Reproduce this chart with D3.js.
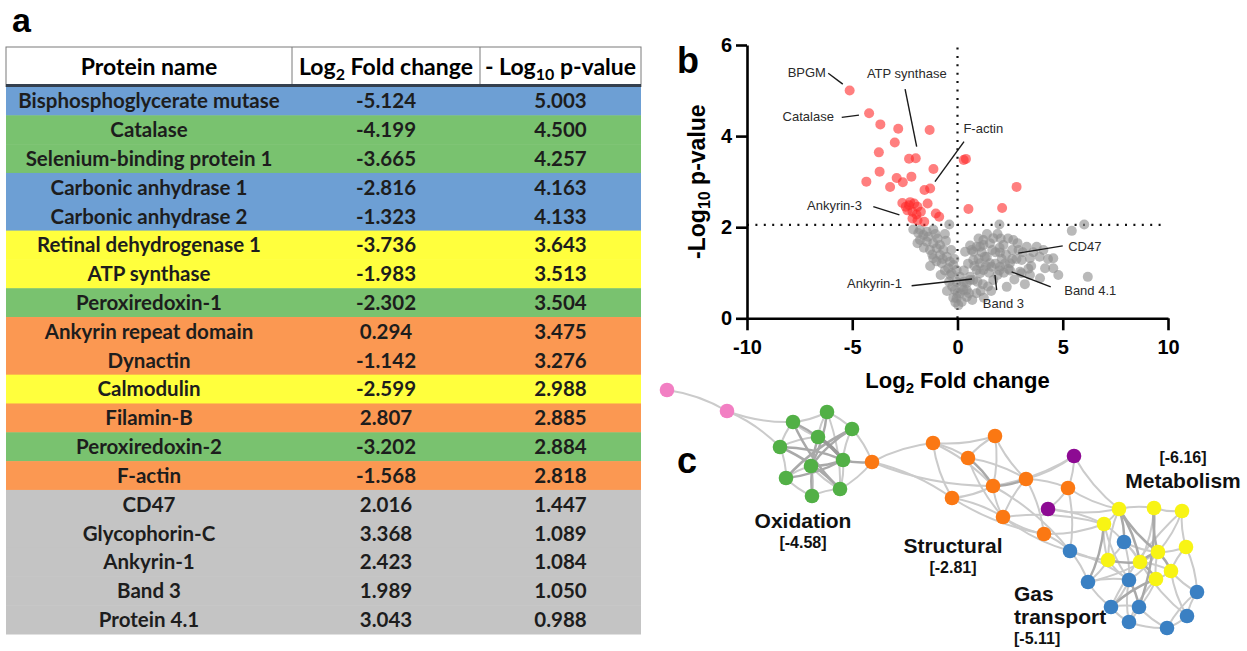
<!DOCTYPE html>
<html>
<head>
<meta charset="utf-8">
<script src="https://cdn.jsdelivr.net/npm/d3@7"></script>
<style>
  body { margin: 0; background: #fff; }
  svg { display: block; font-family: Arial, "Liberation Sans", sans-serif; }
</style>
</head>
<body>
<svg id="fig" width="1247" height="651"></svg>
<script>
// ---------- panel a : table ----------
var proteinNames = ["Bisphosphoglycerate mutase", "Catalase", "Selenium-binding protein 1",
  "Carbonic anhydrase 1", "Carbonic anhydrase 2", "Retinal dehydrogenase 1", "ATP synthase",
  "Peroxiredoxin-1", "Ankyrin repeat domain", "Dynactin", "Calmodulin", "Filamin-B",
  "Peroxiredoxin-2", "F-actin", "CD47", "Glycophorin-C", "Ankyrin-1", "Band 3", "Protein 4.1"];
var log2FC = ["-5.124", "-4.199", "-3.665", "-2.816", "-1.323", "-3.736", "-1.983", "-2.302", "0.294",
  "-1.142", "-2.599", "2.807", "-3.202", "-1.568", "2.016", "3.368", "2.423", "1.989", "3.043"];
var negLog10P = ["5.003", "4.500", "4.257", "4.163", "4.133", "3.643", "3.513", "3.504", "3.475",
  "3.276", "2.988", "2.885", "2.884", "2.818", "1.447", "1.089", "1.084", "1.050", "0.988"];
var rowGroup = ["gas", "ox", "ox", "gas", "gas", "met", "met", "ox", "str", "str", "met", "str",
  "ox", "str", "none", "none", "none", "none", "none"];
var rowFill = { gas: "#6d9fd4", ox: "#79c26f", met: "#ffff3d", str: "#fb9852", none: "#c4c4c4" };

// ---------- panel b : volcano ----------
var redPoints = [[-5.124, 5.003], [-4.199, 4.5], [-3.665, 4.257], [-2.816, 4.163], [-1.323, 4.133],
  [-2.98, 3.86], [-3.736, 3.643], [-2.302, 3.504], [-1.983, 3.513], [0.294, 3.475], [0.40, 3.50],
  [-1.142, 3.276], [-3.70, 3.22], [-4.33, 3.0], [-2.89, 3.08], [-2.19, 3.11], [-2.599, 2.988],
  [-3.202, 2.884], [-1.568, 2.818], [-1.30, 2.85], [2.807, 2.885], [0.52, 2.40], [2.12, 2.42],
  [-2.62, 2.53], [-2.30, 2.48], [-2.06, 2.52], [-1.90, 2.45], [-2.46, 2.45], [-1.74, 2.34],
  [-2.14, 2.34], [-1.42, 2.52], [-1.03, 2.30], [-0.87, 2.23], [-1.90, 2.15], [-1.58, 2.12],
  [-2.14, 2.19], [-2.38, 2.37], [-2.25, 2.55], [-1.95, 2.28]];
var grayPoints = [[-0.39, 2.06], [1.99, 2.06], [6.02, 2.06], [5.43, 1.92], [6.19, 0.91],
  [-1.78, 1.94], [-1.46, 1.90], [-2.1, 1.95], [-1.15, 1.95], [-0.95, 1.75], [-0.6, 1.85],
  [-1.86, 1.87], [-1.62, 1.83], [-1.39, 1.79], [-1.78, 1.72], [-1.46, 1.68], [-1.15, 1.65],
  [-0.83, 1.61], [-0.99, 1.54], [-1.31, 1.50], [-0.67, 1.50], [-0.83, 1.39], [-0.51, 1.35],
  [-1.15, 1.32], [-0.36, 1.24], [-0.75, 1.21], [-0.20, 1.17], [-0.44, 1.10], [-0.04, 1.06],
  [-0.28, 0.99], [0.12, 0.91], [-0.04, 0.80], [0.20, 0.69], [-0.12, 0.62], [0.12, 0.55],
  [-0.04, 0.44], [0.04, 0.29], [-1.9, 1.65], [-1.6, 1.55], [-1.2, 1.4], [-1.0, 1.25],
  [-0.6, 1.05], [-0.8, 0.95], [-0.4, 0.8], [-0.5, 0.6], [-0.2, 0.45], [-0.1, 0.35],
  [-1.3, 1.15], [-0.3, 1.5], [-0.15, 1.3], [-0.55, 1.7], [-1.05, 1.85], [-0.7, 1.3],
  [-0.35, 0.95], [-0.25, 0.7], [0.0, 0.55],
  [0.36, 1.46], [0.67, 1.50], [0.91, 1.57], [1.23, 1.61], [1.54, 1.65], [0.75, 1.28],
  [1.07, 1.21], [1.39, 1.35], [0.91, 1.06], [0.59, 0.91], [0.44, 0.77], [0.75, 0.84],
  [1.23, 1.06], [1.62, 1.13], [0.28, 0.62], [0.44, 0.47], [0.20, 0.36],
  [1.23, 1.72], [1.70, 1.76], [2.65, 1.72], [2.18, 1.61], [1.07, 1.57], [0.75, 1.46],
  [3.29, 1.57], [3.76, 1.57], [4.08, 1.50], [3.05, 1.28], [3.44, 1.32], [4.55, 1.32],
  [4.16, 1.10], [4.55, 1.10], [4.79, 0.95], [3.92, 0.88], [3.44, 0.95], [2.97, 1.02],
  [2.34, 0.69], [1.70, 0.84], [1.07, 0.99], [0.59, 0.84], [0.44, 0.62], [2.02, 1.13],
  [1.54, 1.21], [2.49, 1.21], [1.8, 1.45], [2.3, 1.4], [1.3, 1.35], [2.6, 1.5], [2.0, 1.55],
  [1.5, 1.0], [1.9, 0.95], [2.2, 1.0], [1.2, 0.75], [1.6, 0.6], [0.9, 0.55], [0.7, 0.4],
  [2.8, 1.3], [3.1, 1.45], [2.7, 0.85], [1.0, 1.3], [1.4, 1.85], [1.9, 1.85], [2.4, 1.75],
  [2.85, 1.65], [3.5, 1.15], [3.9, 1.35], [0.5, 1.2], [0.3, 1.05], [0.8, 1.15], [1.25, 0.45],
  [2.5, 1.05], [3.2, 0.75], [2.016, 1.447], [3.368, 1.089], [2.423, 1.084], [1.989, 1.050],
  [3.043, 0.988], [1.15, 1.45], [1.65, 1.5], [2.1, 1.3], [1.35, 1.15], [1.8, 1.2], [2.25, 1.2],
  [0.6, 1.6], [1.0, 1.75], [0.95, 0.8], [1.45, 0.7], [2.6, 1.3], [2.05, 1.75], [0.3, 0.8],
  [1.1, 0.6], [0.55, 0.55], [3.6, 1.45], [4.3, 1.3], [2.9, 1.5]];
var pThreshold = 2.05;
var volcanoLabels = [
  { text: "BPGM", tx: -6.25, ty: 5.30, anchor: "end", x1: -6.14, y1: 5.38, x2: -5.45, y2: 5.14 },
  { text: "ATP synthase", tx: -2.41, ty: 5.27, anchor: "middle", x1: -2.49, y1: 5.03, x2: -1.94, y2: 3.77 },
  { text: "Catalase", tx: -5.87, ty: 4.33, anchor: "end", x1: -5.50, y1: 4.41, x2: -4.68, y2: 4.46 },
  { text: "F-actin", tx: 0.28, ty: 4.07, anchor: "start", x1: 0.31, y1: 3.88, x2: -1.07, y2: 3.00 },
  { text: "Ankyrin-3", tx: -4.54, ty: 2.38, anchor: "end", x1: -4.00, y1: 2.45, x2: -2.76, y2: 2.27 },
  { text: "Ankyrin-1", tx: -2.64, ty: 0.665, anchor: "end", x1: -2.18, y1: 0.716, x2: 0.69, y2: 0.863 },
  { text: "CD47", tx: 5.26, ty: 1.48, anchor: "start", x1: 5.00, y1: 1.59, x2: 2.89, y2: 1.43 },
  { text: "Band 4.1", tx: 5.07, ty: 0.51, anchor: "start", x1: 4.43, y1: 0.69, x2: 2.57, y2: 1.02 },
  { text: "Band 3", tx: 1.20, ty: 0.226, anchor: "start", x1: 1.86, y1: 0.62, x2: 1.78, y2: 0.95 }
];

// ---------- panel c : network ----------
var netNodes = [
  ["P1", "pink", 7, 5], ["P2", "pink", 67, 26],
  ["G1", "green", 133, 37], ["G2", "green", 167, 27], ["G3", "green", 192, 44], ["G4", "green", 158, 52],
  ["G5", "green", 120, 62], ["G6", "green", 183, 75], ["G7", "green", 151, 81], ["G8", "green", 126, 93],
  ["G9", "green", 180, 104], ["G10", "green", 152, 111],
  ["O1", "orange", 212, 77], ["O2", "orange", 273, 58], ["O3", "orange", 292, 113], ["O4", "orange", 335, 51],
  ["O5", "orange", 308, 73], ["O6", "orange", 333, 101], ["O7", "orange", 366, 94], ["O8", "orange", 343, 132],
  ["O9", "orange", 408, 103], ["O10", "orange", 384, 149],
  ["U1", "purple", 414, 71], ["U2", "purple", 388, 124],
  ["Y1", "yellow", 459, 124], ["Y2", "yellow", 494, 123], ["Y3", "yellow", 522, 126], ["Y4", "yellow", 444, 139],
  ["Y5", "yellow", 526, 162], ["Y6", "yellow", 498, 167], ["Y7", "yellow", 448, 175], ["Y8", "yellow", 480, 177],
  ["Y9", "yellow", 511, 186], ["Y10", "yellow", 496, 194],
  ["B1", "blue", 464, 157], ["B2", "blue", 410, 166], ["B3", "blue", 428, 197], ["B4", "blue", 469, 195],
  ["B5", "blue", 537, 207], ["B6", "blue", 451, 222], ["B7", "blue", 479, 222], ["B8", "blue", 527, 231],
  ["B9", "blue", 469, 237], ["B10", "blue", 507, 243]
];
var netEdges = [
  ["P1", "P2", 1], ["P2", "G1", 1], ["P2", "G5", 1],
  ["G1", "G2", 1], ["G2", "G3", 1], ["G3", "G6", 1], ["G6", "G9", 1], ["G9", "G10", 1], ["G10", "G8", 1],
  ["G8", "G5", 1], ["G5", "G1", 1], ["G1", "G4", 1], ["G4", "G2", 1],
  ["G1", "G9", 2], ["G2", "G7", 2], ["G3", "G8", 2], ["G5", "G6", 2], ["G4", "G10", 2], ["G7", "G3", 2],
  ["G4", "G6", 3], ["G7", "G6", 2], ["G5", "G9", 2], ["G8", "G6", 2], ["G1", "G6", 2], ["G7", "G9", 1],
  ["G7", "G10", 1], ["G7", "G8", 1], ["G2", "G9", 1], ["G4", "G5", 1],
  ["G6", "O1", 2], ["G3", "O1", 1], ["G9", "O1", 1],
  ["O1", "O2", 1], ["O1", "O6", 1], ["O1", "O3", 1],
  ["O2", "O4", 1], ["O2", "O5", 1], ["O2", "O3", 1], ["O2", "O6", 1], ["O4", "O5", 1], ["O4", "O6", 1],
  ["O4", "O7", 1], ["O5", "O6", 2], ["O5", "O7", 1], ["O5", "O8", 1], ["O6", "O7", 2], ["O6", "O3", 1],
  ["O6", "O8", 1], ["O3", "O8", 1], ["O7", "O8", 1], ["O7", "O9", 1], ["O7", "U1", 1], ["O7", "O10", 1],
  ["O8", "O10", 1], ["O8", "Y4", 1], ["O9", "U1", 1], ["O9", "U2", 1], ["O9", "Y1", 1], ["O9", "B2", 1],
  ["U1", "Y1", 1], ["U1", "O6", 1], ["U2", "Y1", 1], ["U2", "Y4", 1], ["O10", "Y4", 1], ["O10", "B2", 1],
  ["O8", "B2", 1], ["O6", "B2", 1], ["O3", "O10", 1],
  ["Y1", "Y2", 1], ["Y2", "Y3", 1], ["Y1", "Y4", 1], ["Y1", "B1", 2], ["Y1", "Y6", 2], ["Y1", "Y8", 2],
  ["Y1", "Y7", 1], ["Y2", "Y6", 2], ["Y2", "Y8", 1], ["Y3", "Y5", 1], ["Y3", "Y6", 1], ["Y4", "Y7", 1],
  ["Y4", "Y8", 1], ["Y4", "B4", 1], ["Y4", "B3", 2], ["Y5", "Y6", 1], ["Y5", "Y9", 1], ["Y5", "B5", 1],
  ["Y6", "Y8", 2], ["Y6", "Y9", 2], ["Y6", "Y10", 1], ["Y6", "B4", 1], ["Y7", "Y8", 2], ["Y7", "B1", 1],
  ["Y7", "B3", 1], ["Y7", "B4", 1], ["Y8", "Y9", 1], ["Y8", "Y10", 2], ["Y8", "B1", 1], ["Y9", "Y10", 1],
  ["Y9", "B8", 1], ["Y10", "B7", 1], ["Y10", "B6", 2], ["Y10", "B9", 1],
  ["B1", "B4", 1], ["B1", "Y6", 1], ["B2", "B3", 1], ["B2", "Y7", 1], ["B2", "B4", 1], ["B3", "B6", 1],
  ["B3", "B4", 1], ["B4", "B7", 2], ["B4", "B9", 1], ["B4", "B6", 1], ["B5", "B8", 1], ["B5", "Y9", 1],
  ["B5", "B10", 1], ["B6", "B7", 1], ["B6", "B9", 1], ["B7", "B9", 1], ["B7", "B10", 1], ["B8", "B10", 1],
  ["B9", "B10", 1], ["B7", "Y2", 2], ["B6", "Y3", 1], ["B3", "Y6", 1], ["B8", "Y8", 1]
];
var nodeFill = { pink: "#f27fc3", green: "#52b046", orange: "#fb7813", purple: "#8d0a93", yellow: "#f8f414", blue: "#3a80c3" };
var clusterLabels = [
  { lines: ["Oxidation"], sub: "[-4.58]", x: 143, y: 143, anchor: "middle" },
  { lines: ["Structural"], sub: "[-2.81]", x: 293, y: 168, anchor: "middle" },
  { lines: ["Gas", "transport"], sub: "[-5.11]", x: 354, y: 216, anchor: "start" },
  { lines: ["Metabolism"], sub: "[-6.16]", x: 523, y: 78, anchor: "middle", subFirst: true }
];

var svg = d3.select("#fig");

// ======== panel a ========
svg.append("text").attr("x", 12).attr("y", 32).text("a")
  .style("font-size", "34px").style("font-weight", "bold");

var colEdges = [6, 292, 480, 641];
var tableTop = 47, headBottom = 86.5, tableBottom = 634;
var rowY = d3.scaleBand().domain(d3.range(proteinNames.length)).range([headBottom, tableBottom]);
var colMid = function(c) { return (colEdges[c] + colEdges[c + 1]) / 2; };

var ga = svg.append("g").style("font-family", "Lato, 'Open Sans', sans-serif");
ga.selectAll("rect.row").data(proteinNames).join("rect")
  .attr("class", "row")
  .attr("x", colEdges[0]).attr("width", colEdges[3] - colEdges[0])
  .attr("y", function(d, i) { return rowY(i); })
  .attr("height", rowY.bandwidth() + 0.5)
  .attr("fill", function(d, i) { return rowFill[rowGroup[i]]; });

var cols = [proteinNames, log2FC, negLog10P];
cols.forEach(function(arr, c) {
  ga.selectAll("text.c" + c).data(arr).join("text")
    .attr("class", "c" + c)
    .attr("x", colMid(c))
    .attr("y", function(d, i) { return rowY(i) + rowY.bandwidth() / 2; })
    .attr("dy", "0.36em")
    .attr("text-anchor", "middle")
    .style("font-size", "20.5px").style("font-weight", "bold").style("fill", "#1d1d1d")
    .text(function(d) { return d; });
});

// header
ga.append("rect").attr("x", colEdges[0]).attr("y", tableTop)
  .attr("width", colEdges[3] - colEdges[0]).attr("height", headBottom - tableTop)
  .attr("fill", "#fff").attr("stroke", "#7a7a7a").attr("stroke-width", 1);
[1, 2].forEach(function(c) {
  ga.append("line").attr("x1", colEdges[c]).attr("x2", colEdges[c])
    .attr("y1", tableTop).attr("y2", headBottom).attr("stroke", "#7a7a7a");
});
ga.append("line").attr("x1", colEdges[0]).attr("x2", colEdges[3])
  .attr("y1", headBottom - 1).attr("y2", headBottom - 1)
  .attr("stroke", "#34404e").attr("stroke-width", 3);

var headers = [
  [["Protein name", 0]],
  [["Log", 0], ["2", 1], [" Fold change", 0]],
  [["- Log", 0], ["10", 1], [" p-value", 0]]
];
headers.forEach(function(parts, c) {
  var t = ga.append("text").attr("x", colMid(c)).attr("y", 75)
    .attr("text-anchor", "middle")
    .style("font-size", "23px").style("font-weight", "bold").style("fill", "#000");
  var shift = 0;
  parts.forEach(function(p) {
    var dy = p[1] ? 5 - shift : -shift;
    shift += dy;
    t.append("tspan").attr("dy", dy).style("font-size", p[1] ? "16px" : "23px").text(p[0]);
  });
});

// ======== panel b ========
svg.append("text").attr("x", 677).attr("y", 73).text("b")
  .style("font-size", "36px").style("font-weight", "bold");

var x = d3.scaleLinear().domain([-10, 10]).range([747, 1168]);
var y = d3.scaleLinear().domain([0, 6]).range([318.3, 45]);
var gb = svg.append("g");

gb.append("line").attr("x1", x(-10)).attr("x2", x(9.7))
  .attr("y1", y(pThreshold)).attr("y2", y(pThreshold))
  .attr("stroke", "#111").attr("stroke-width", 2.2).attr("stroke-dasharray", "2,6.4");
gb.append("line").attr("x1", x(0)).attr("x2", x(0))
  .attr("y1", y(0)).attr("y2", y(6))
  .attr("stroke", "#111").attr("stroke-width", 2.2).attr("stroke-dasharray", "2,6.4");

gb.selectAll("circle.gray").data(grayPoints).join("circle")
  .attr("class", "gray")
  .attr("cx", function(d) { return x(d[0]); }).attr("cy", function(d) { return y(d[1]); })
  .attr("r", 5).attr("fill", "#8e8e8e").attr("fill-opacity", 0.62);
gb.selectAll("circle.red").data(redPoints).join("circle")
  .attr("class", "red")
  .attr("cx", function(d) { return x(d[0]); }).attr("cy", function(d) { return y(d[1]); })
  .attr("r", 5).attr("fill", "#ff2929").attr("fill-opacity", 0.6);

var xAxis = gb.append("g").attr("transform", "translate(0," + y(0) + ")")
  .call(d3.axisBottom(x).tickValues([-10, -5, 0, 5, 10]).tickSize(12).tickSizeOuter(0).tickPadding(10)
    .tickFormat(function(d) { return String(d); }));
var yAxis = gb.append("g").attr("transform", "translate(" + x(-10) + ",0)")
  .call(d3.axisLeft(y).tickValues([0, 2, 4, 6]).tickSize(11).tickSizeOuter(0).tickPadding(4)
    .tickFormat(function(d) { return String(d); }));
[xAxis, yAxis].forEach(function(a) {
  a.selectAll("path, line").attr("stroke", "#000").attr("stroke-width", 2.6);
  a.selectAll("text").attr("fill", "#000").style("font-size", "20px").style("font-weight", "bold")
    .style("font-family", "Arial, 'Liberation Sans', sans-serif");
});

var xt = gb.append("text").attr("x", x(0)).attr("y", 388).attr("text-anchor", "middle")
  .style("font-size", "22px").style("font-weight", "bold");
xt.append("tspan").text("Log");
xt.append("tspan").attr("dy", 5).style("font-size", "15px").text("2");
xt.append("tspan").attr("dy", -5).text(" Fold change");

var yt = gb.append("text").attr("transform", "translate(705," + y(3) + ") rotate(-90)")
  .attr("text-anchor", "middle").style("font-size", "23px").style("font-weight", "bold");
yt.append("tspan").text("-Log");
yt.append("tspan").attr("dy", 5).style("font-size", "16px").text("10");
yt.append("tspan").attr("dy", -5).text(" p-value");

gb.selectAll("line.lead").data(volcanoLabels).join("line")
  .attr("class", "lead")
  .attr("x1", function(d) { return x(d.x1); }).attr("y1", function(d) { return y(d.y1); })
  .attr("x2", function(d) { return x(d.x2); }).attr("y2", function(d) { return y(d.y2); })
  .attr("stroke", "#1a1a1a").attr("stroke-width", 1.4);
gb.selectAll("text.ann").data(volcanoLabels).join("text")
  .attr("class", "ann")
  .attr("x", function(d) { return x(d.tx); }).attr("y", function(d) { return y(d.ty); })
  .attr("text-anchor", function(d) { return d.anchor; })
  .style("font-size", "13px").style("fill", "#2a2a2a")
  .text(function(d) { return d.text; });

// ======== panel c ========
svg.append("text").attr("x", 677).attr("y", 473).text("c")
  .style("font-size", "36px").style("font-weight", "bold");

var nx = d3.scaleLinear().domain([0, 540]).range([660, 1200]);
var ny = d3.scaleLinear().domain([0, 245]).range([385, 630]);
var nodeById = {};
netNodes.forEach(function(n) { nodeById[n[0]] = { x: nx(n[2]), y: ny(n[3]), group: n[1] }; });

var gc = svg.append("g");
var edgeStyle = { 1: ["#cbcbcb", 2], 2: ["#a9a9a9", 2.5], 3: ["#999999", 3.4] };
gc.selectAll("path.edge").data(netEdges.slice().sort(function(a, b) { return a[2] - b[2]; })).join("path")
  .attr("class", "edge")
  .attr("fill", "none")
  .attr("stroke", function(d) { return edgeStyle[d[2]][0]; })
  .attr("stroke-width", function(d) { return edgeStyle[d[2]][1]; })
  .attr("d", function(d, i) {
    var s = nodeById[d[0]], t = nodeById[d[1]];
    var mx = (s.x + t.x) / 2, my = (s.y + t.y) / 2;
    var dx = t.x - s.x, dy = t.y - s.y;
    var k = (i % 2 ? 0.1 : -0.1);
    return "M" + s.x + "," + s.y + "Q" + (mx - dy * k) + "," + (my + dx * k) + " " + t.x + "," + t.y;
  });

gc.selectAll("circle.node").data(netNodes).join("circle")
  .attr("class", "node")
  .attr("cx", function(d) { return nx(d[2]); }).attr("cy", function(d) { return ny(d[3]); })
  .attr("r", 7.3).attr("fill", function(d) { return nodeFill[d[1]]; });

clusterLabels.forEach(function(c) {
  var t = gc.append("text").attr("text-anchor", c.anchor).style("font-weight", "bold").style("fill", "#111");
  var rows = c.subFirst ? [[c.sub, 1]].concat(c.lines.map(function(l) { return [l, 0]; }))
                        : c.lines.map(function(l) { return [l, 0]; }).concat([[c.sub, 1]]);
  var yy = ny(c.y);
  var offsets = [];
  var acc = 0;
  rows.forEach(function(r, i) { if (i > 0) acc += r[1] ? 20 : (rows[i - 1][1] ? 25 : 23); offsets.push(acc); });
  rows.forEach(function(r, i) {
    t.append("tspan").attr("x", nx(c.x)).attr("y", yy + offsets[i])
      .style("font-size", r[1] ? "16px" : "21px").text(r[0]);
  });
});
</script>
</body>
</html>
